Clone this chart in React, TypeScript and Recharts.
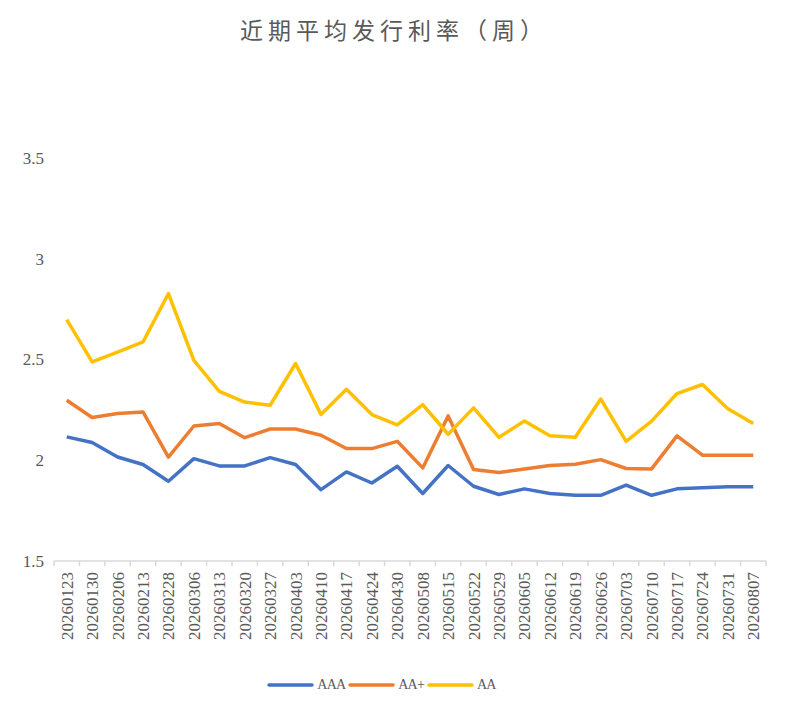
import React from 'react';
import { LineChart, Line, XAxis, YAxis, Legend } from 'recharts';

const dates = [
  '20260123', '20260130', '20260206', '20260213', '20260228', '20260306', '20260313',
  '20260320', '20260327', '20260403', '20260410', '20260417', '20260424', '20260430',
  '20260508', '20260515', '20260522', '20260529', '20260605', '20260612', '20260619',
  '20260626', '20260703', '20260710', '20260717', '20260724', '20260731', '20260807',
];

const aaa = [
  2.116, 2.088, 2.016, 1.979, 1.896, 2.008, 1.972, 1.972, 2.013, 1.979, 1.854, 1.942, 1.887, 1.97,
  1.835, 1.974, 1.871, 1.83, 1.858, 1.835, 1.826, 1.826, 1.877, 1.826, 1.858, 1.863, 1.869, 1.869,
];

const aaPlus = [
  2.298, 2.212, 2.232, 2.24, 2.016, 2.17, 2.182, 2.112, 2.155, 2.155, 2.124, 2.058, 2.058, 2.094,
  1.962, 2.22, 1.954, 1.939, 1.957, 1.974, 1.98, 2.003, 1.959, 1.957, 2.121, 2.025, 2.025, 2.025,
];

const aa = [
  2.698, 2.488, 2.537, 2.587, 2.827, 2.496, 2.342, 2.289, 2.273, 2.48, 2.227, 2.352, 2.227, 2.176,
  2.276, 2.129, 2.26, 2.114, 2.195, 2.122, 2.114, 2.304, 2.094, 2.194, 2.331, 2.376, 2.256, 2.182,
];

const yTicks = [1.5, 2, 2.5, 3, 3.5];

const series = [
  { key: 'AAA', color: '#4472C4' },
  { key: 'AA+', color: '#ED7D31' },
  { key: 'AA', color: '#FFC000' },
];

const data = dates.map((d, i) => ({ date: d, AAA: aaa[i], 'AA+': aaPlus[i], AA: aa[i] }));

const TEXT = '#595959';
const SERIF = "'Times New Roman', 'Liberation Serif', 'DejaVu Serif', serif";
const STEP = 712 / dates.length;

const XTick = (props: any) => {
  const { x, y, payload, index } = props;
  const half = STEP / 2;
  return (
    <g>
      <line x1={x - half} y1={y} x2={x - half} y2={y + 5} stroke="#d9d9d9" strokeWidth={1.5} />
      {index === dates.length - 1 && (
        <line x1={x + half} y1={y} x2={x + half} y2={y + 5} stroke="#d9d9d9" strokeWidth={1.5} />
      )}
      <text
        transform={`translate(${x},${y + 11}) rotate(-90)`}
        textAnchor="end"
        dy="0.35em"
        fill={TEXT}
        fontSize={17}
        style={{ fontFamily: SERIF }}
      >
        {payload.value}
      </text>
    </g>
  );
};

const YTick = (props: any) => {
  const { x, y, payload } = props;
  return (
    <text x={x} y={y} dy="0.35em" textAnchor="end" fill={TEXT} fontSize={17} style={{ fontFamily: SERIF }}>
      {payload.value}
    </text>
  );
};

const LegendContent = () => (
  <div style={{ height: 53, display: 'flex', justifyContent: 'center', alignItems: 'center', paddingBottom: 6, boxSizing: 'border-box' }}>
    {series.map((s) => (
      <div key={s.key} style={{ display: 'flex', alignItems: 'center', marginRight: 3 }}>
        <svg width={47} height={6}>
          <line x1={2} y1={3} x2={45} y2={3} stroke={s.color} strokeWidth={3.5} strokeLinecap="round" />
        </svg>
        <span style={{ marginLeft: 3, fontFamily: SERIF, fontSize: 14, letterSpacing: -0.8, color: TEXT }}>{s.key}</span>
      </div>
    ))}
  </div>
);

export default function App() {
  return (
    <div style={{ position: 'absolute', left: 0, top: 0, width: 788, height: 714, background: '#fff' }}>
      <div
        style={{
          position: 'absolute',
          top: 12,
          left: 0,
          width: 788,
          textAlign: 'center',
          fontFamily: '"Noto Sans CJK SC", sans-serif',
          fontSize: 23,
          letterSpacing: 5,
          color: TEXT,
          lineHeight: '34px',
        }}
      >
        近期平均发行利率（周）
      </div>
      <LineChart width={788} height={714} data={data} margin={{ top: 158, right: 22, left: 0, bottom: 0 }}>
        <XAxis
          dataKey="date"
          interval={0}
          height={100}
          tickSize={0}
          tickMargin={0}
          tickLine={false}
          padding={{ left: STEP / 2, right: STEP / 2 }}
          axisLine={{ stroke: '#d9d9d9', strokeWidth: 1.5 }}
          tick={<XTick />}
        />
        <YAxis
          width={54}
          domain={[1.5, 3.5]}
          ticks={yTicks}
          axisLine={false}
          tickLine={false}
          tickSize={6}
          tickMargin={4}
          tick={<YTick />}
        />
        <Legend verticalAlign="bottom" content={<LegendContent />} />
        {series.map((s) => (
          <Line
            key={s.key}
            dataKey={s.key}
            stroke={s.color}
            strokeWidth={3.5}
            dot={false}
            type="linear"
            strokeLinejoin="round"
            isAnimationActive={false}
          />
        ))}
      </LineChart>
    </div>
  );
}
